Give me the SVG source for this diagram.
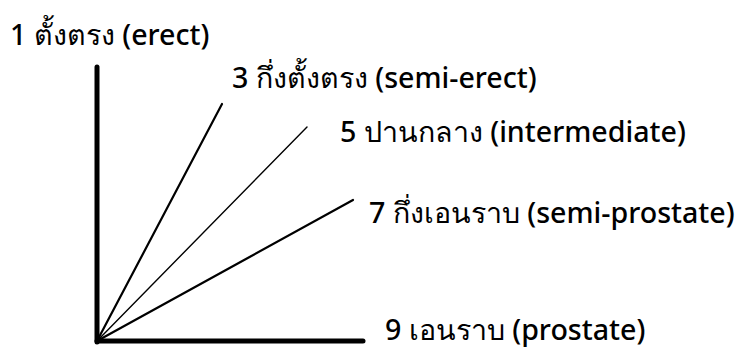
<svg xmlns="http://www.w3.org/2000/svg" width="739" height="349" viewBox="0 0 739 349">
<style>
.t{font-family:"Noto Sans","Liberation Sans",sans-serif;font-size:28.6px;font-weight:500;fill:#000}
.ax{stroke:#000;stroke-width:5;stroke-linecap:round;fill:none}
.ln{stroke:#000;fill:none;stroke-linecap:round}
</style>
<rect width="739" height="349" fill="#fff"/>
<g id="connectors">
<line class="ax" x1="97" y1="67" x2="97" y2="342"/>
<line class="ax" x1="97" y1="341" x2="363" y2="341"/>
<line class="ln" stroke-width="2.2" x1="97" y1="341" x2="222" y2="104"/>
<line class="ln" stroke-width="1.4" x1="97" y1="341" x2="307" y2="127"/>
<line class="ln" stroke-width="2.2" x1="97" y1="341" x2="353" y2="200"/>
</g>
<g id="n1"><text class="t" x="10" y="45">1 ตั้งตรง (erect)</text></g>
<g id="n3"><text class="t" x="232" y="88">3 กึ่งตั้งตรง (semi-erect)</text></g>
<g id="n5"><text class="t" x="340" y="142">5 ปานกลาง (intermediate)</text></g>
<g id="n7"><text class="t" x="369" y="223">7 กึ่งเอนราบ (semi-prostate)</text></g>
<g id="n9"><text class="t" x="385" y="340">9 เอนราบ (prostate)</text></g>
</svg>
